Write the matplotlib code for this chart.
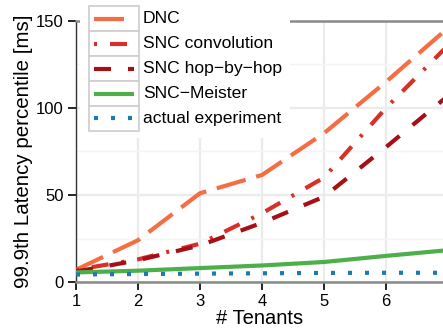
import matplotlib
matplotlib.use("Agg")
import matplotlib.pyplot as plt
from matplotlib.lines import Line2D
from matplotlib.patches import Rectangle
import numpy as np

plt.rcParams['font.family'] = ['Liberation Sans', 'DejaVu Sans']
plt.rcParams['lines.scale_dashes'] = False

tenants = [1, 2, 3, 4, 5, 6, 7]
dnc = [7, 24, 51, 61.5, 85.5, 115, 146]
snc_conv = [7, 13, 22, 39.5, 60, 100, 136]
snc_hop = [6, 12.5, 21, 34, 49, 77.5, 107]
snc_meister = [5.5, 6.5, 8, 9.5, 11.5, 15, 18.3]
actual = [4.3, 4.6, 4.8, 5.0, 5.2, 5.3, 5.3]

labels = ["DNC", "SNC convolution", "SNC hop\u2212by\u2212hop", "SNC\u2212Meister", "actual experiment"]
series = [dnc, snc_conv, snc_hop, snc_meister, actual]
colors = ["#F46D43", "#D73027", "#A50F15", "#4DAF4A", "#1F78B4"]
px = 0.72
dashes = [(0, (30*px, 11*px)), (0, (3*px, 13*px, 17*px, 13*px)), (0, (17*px, 17*px)), None, (0, (4*px, 13*px))]

W, H = 443, 329
fig = plt.figure(figsize=(W/100, H/100), dpi=100)
ax = fig.add_axes([76/W, 1-282/H, 1-76/W, (282-21)/H])

lw = 3.0
for y, c, d, lab in zip(series, colors, dashes, labels):
    if d is None:
        ax.plot(tenants, y, color=c, lw=lw, solid_capstyle='butt', label=lab, zorder=3)
    else:
        ax.plot(tenants, y, color=c, lw=lw, linestyle=d, label=lab, zorder=3)

ax.set_xlim(1, 6.92)
ax.set_ylim(0, 150)
ax.set_xticks([1, 2, 3, 4, 5, 6])
ax.set_yticks([0, 50, 100, 150])
ax.set_yticks([25, 75, 125], minor=True)
ax.grid(True, which='major', color='#ebebeb', lw=1.6, zorder=0)
ax.grid(True, which='minor', axis='y', color='#f4f4f4', lw=1.0, zorder=0)
ax.set_axisbelow(True)

for s in ['top', 'bottom']:
    ax.spines[s].set_color('#8a8a8a')
    ax.spines[s].set_linewidth(1.8)
ax.spines['left'].set_color('#333333')
ax.spines['left'].set_linewidth(1.0)
ax.spines['right'].set_visible(False)
ax.tick_params(axis='both', which='major', direction='out', length=6, width=1.2, color='black', labelsize=12, pad=3)
ax.tick_params(axis='y', which='minor', length=0)

ax.set_xlabel("# Tenants", fontsize=14.5, labelpad=0)
ax.set_ylabel("99.9th Latency percentile [ms]", fontsize=14.8, labelpad=2)

def fx(x):
    return x / W
def fy(y):
    return 1 - y / H

# legend background
fig.add_artist(Rectangle((fx(80), fy(138)), fx(290) - fx(80), fy(0) - fy(138),
                         transform=fig.transFigure, facecolor='white', edgecolor='none', zorder=5))
row_top = 6
row_h = 25
for i, (c, d, lab) in enumerate(zip(colors, dashes, labels)):
    t = row_top + i*row_h
    fig.add_artist(Rectangle((fx(89), fy(t + row_h)), fx(139) - fx(89), fy(t) - fy(t + row_h),
                             transform=fig.transFigure, facecolor='white', edgecolor='#d0d0d0', lw=1.3, zorder=6))
    yc = t + row_h/2
    ln = Line2D([fx(93.5), fx(134)], [fy(yc), fy(yc)], transform=fig.transFigure,
                color=c, lw=lw, linestyle=(d if d is not None else '-'), solid_capstyle='butt', zorder=7)
    fig.add_artist(ln)
    fig.text(fx(143), fy(yc), lab, fontsize=12.6, va='center', ha='left', zorder=7)

fig.savefig("out.png", dpi=100)
